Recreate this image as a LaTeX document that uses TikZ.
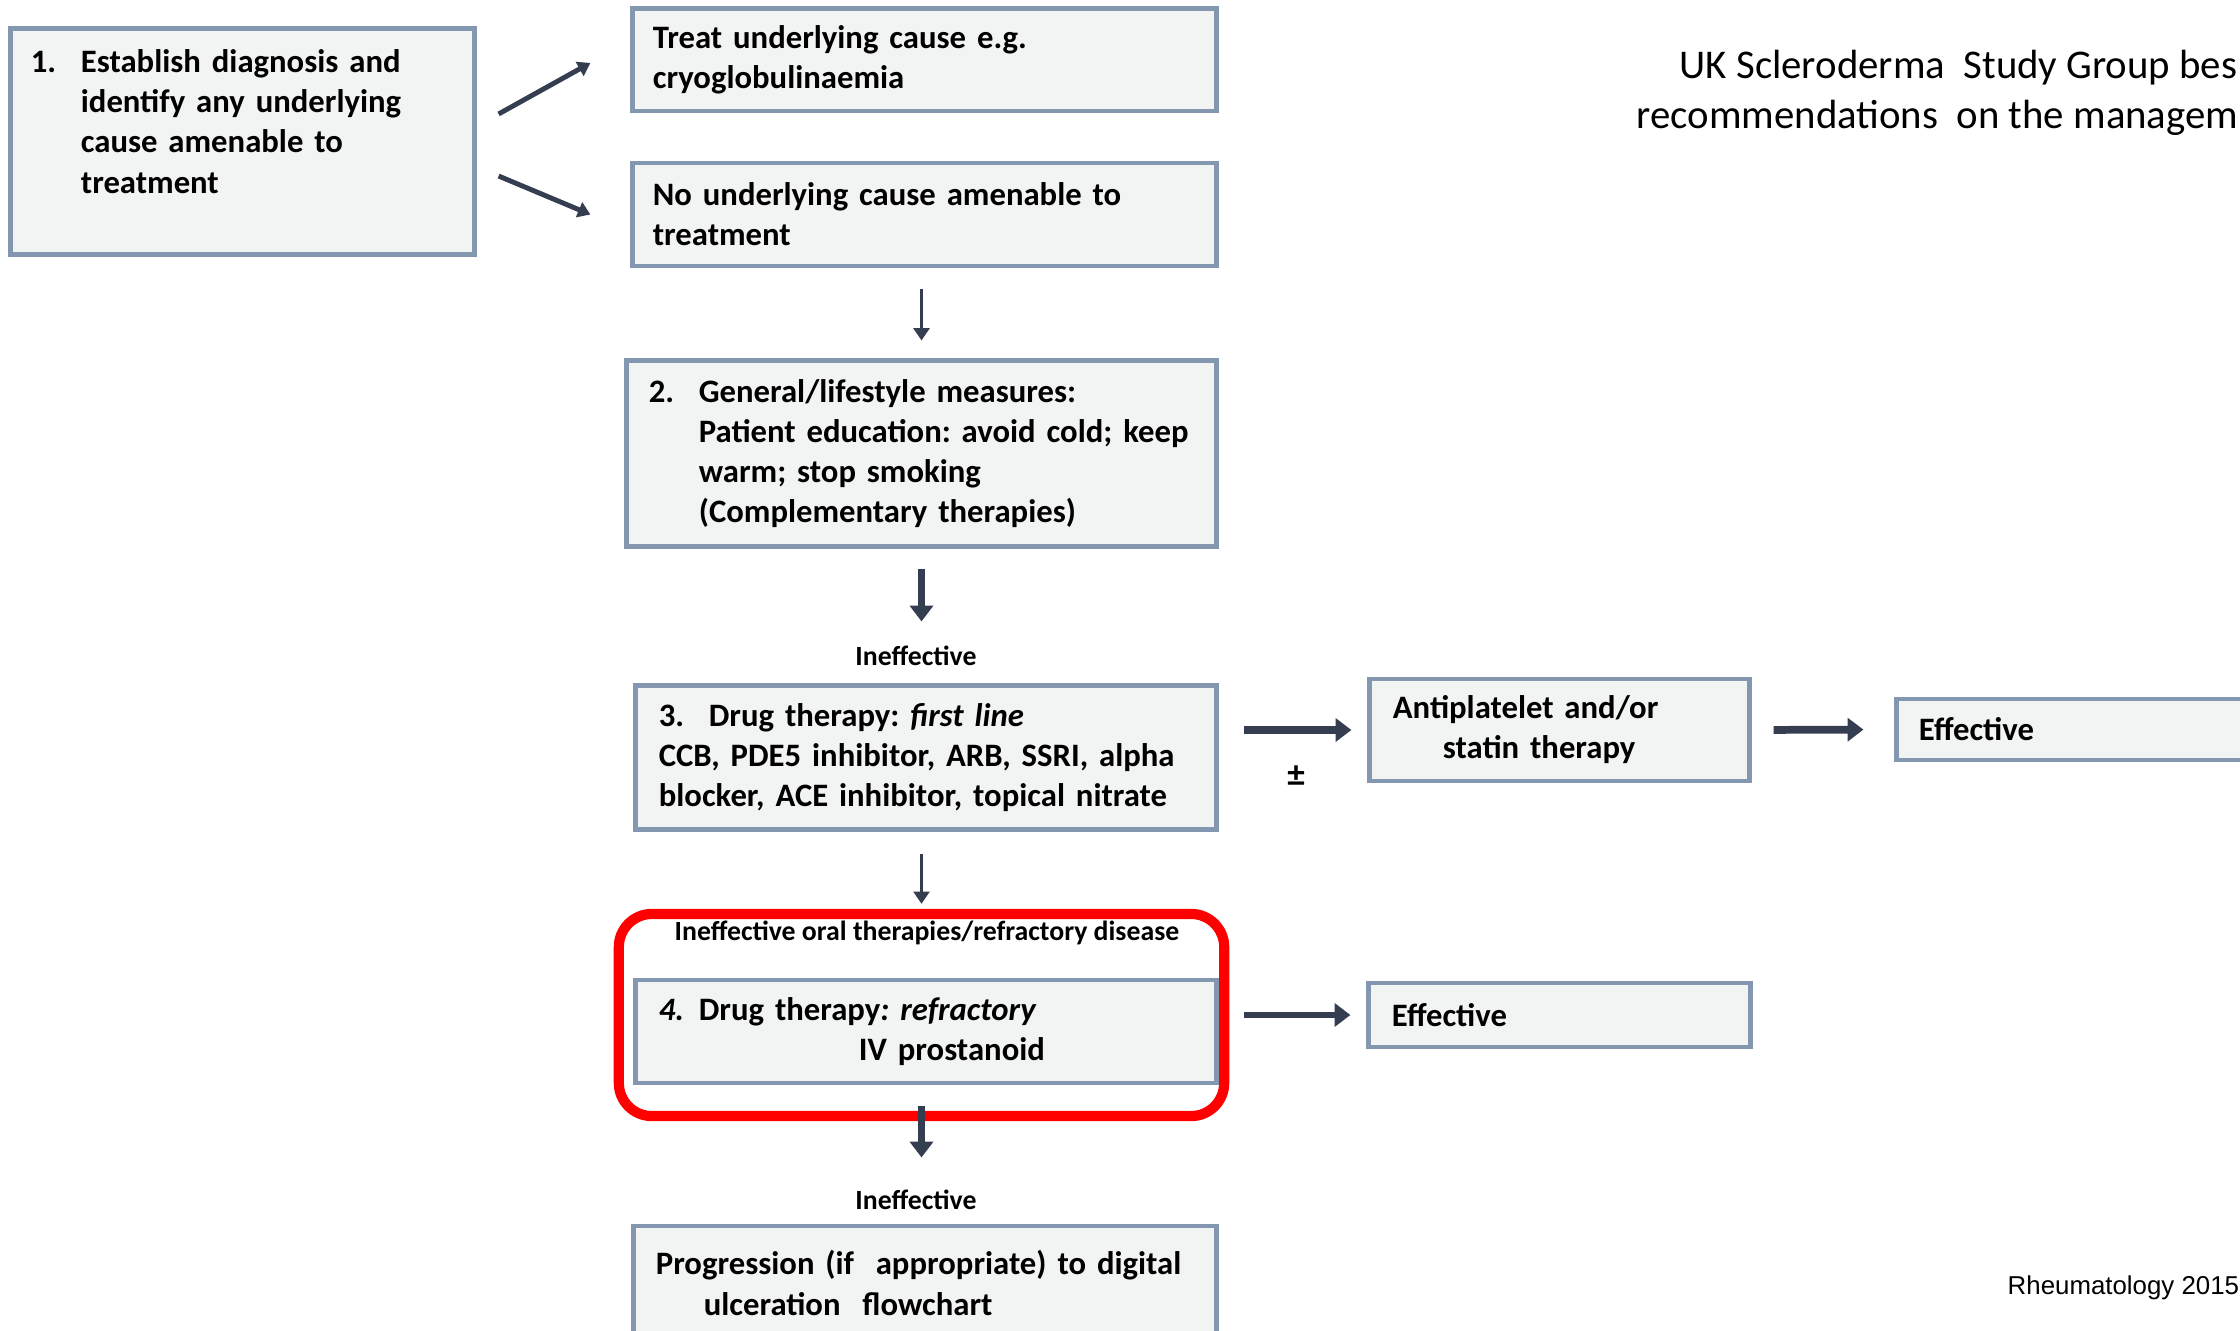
\documentclass[tikz,border=0pt]{standalone}
\usepackage{fontspec}
\setmainfont{Carlito}
\newfontfamily\arialfont{Liberation Sans}
\usetikzlibrary{arrows.meta}
\frenchspacing

\definecolor{boxfill}{RGB}{242,243,243}
\definecolor{boxline}{RGB}{132,151,176}
\definecolor{arrowcol}{RGB}{52,62,80}

\begin{document}
\begin{tikzpicture}[x=0.01cm,y=-0.01cm,
  box/.style={draw=boxline,fill=boxfill,line width=1.4pt,align=left,inner xsep=.2cm,
    font=\fontsize{9.3}{11.4}\selectfont\bfseries},
  thinarrow/.style={draw=arrowcol,line width=1.1pt,-{Triangle[width=4.5pt,length=3.5pt]}},
  thickarrow/.style={draw=arrowcol,line width=2.2pt,-{Triangle[width=6.5pt,length=4.5pt]}},
  lbl/.style={font=\fontsize{7.9}{9}\selectfont\bfseries,inner sep=0pt}]

  \useasboundingbox (0,0) rectangle (2240,1331);
  \clip (0,0) rectangle (2240,1331);

  % step 1 and the two outcomes
  \node[box,minimum width=4.63cm,minimum height=2.25cm,text width=4.23cm] at (242.5,141.5) (b1)
    {\makebox[.5cm][l]{1.}Establish diagnosis and\\\hspace*{.5cm}identify any underlying\\
     \hspace*{.5cm}cause amenable to\\\hspace*{.5cm}treatment\\~};
  \node[box,minimum width=5.83cm,minimum height=1.02cm,text width=5.43cm] at (924.5,60) (treat)
    {Treat underlying cause e.g.\\cryoglobulinaemia};
  \node[box,minimum width=5.83cm,minimum height=1.03cm,text width=5.43cm] at (924.5,214.5) (nocause)
    {No underlying cause amenable to\\treatment};

  % step 2
  \node[box,minimum width=5.89cm,minimum height=1.85cm,text width=5.45cm,inner xsep=.22cm] at (921.5,453.5) (b2)
    {\makebox[.5cm][l]{2.}General/lifestyle measures:\\\hspace*{.5cm}Patient education: avoid cold; keep\\
     \hspace*{.5cm}warm; stop smoking\\\hspace*{.5cm}(Complementary therapies)};
  \node[lbl] at (916,656) (ineff1) {Ineffective};

  % step 3, first line
  \node[box,minimum width=5.80cm,minimum height=1.43cm,text width=5.34cm,inner xsep=.23cm] at (926,757.5) (b3)
    {\makebox[.5cm][l]{3.}Drug therapy: \textit{first line}\\CCB, PDE5 inhibitor, ARB, SSRI, alpha\\
     blocker, ACE inhibitor, topical nitrate};
  \node[box,minimum width=3.79cm,minimum height=1.02cm,text width=3.33cm,inner xsep=.23cm] at (1559.5,730) (anti)
    {Antiplatelet and/or\\\hspace*{.5cm}statin therapy};
  \node[box,minimum width=3.79cm,minimum height=.61cm,text width=3.35cm,inner xsep=.22cm] at (2086.5,729.5) (eff1)
    {Effective};
  \node[font=\fontsize{10}{11}\selectfont\bfseries,inner sep=0pt] at (1296,776) (pm) {±};

  % step 4, refractory
  \node[draw=red,line width=2.9pt,rounded corners=.33cm,minimum width=6.05cm,minimum height=2.02cm] at (921.5,1015) (frame) {};
  \node[lbl] at (927,933) (oral) {Ineffective oral therapies/refractory disease};
  \node[box,minimum width=5.80cm,minimum height=1.03cm,text width=5.34cm,inner xsep=.23cm] at (926,1031.5) (b4)
    {\makebox[.4cm][l]{\textit{4.}}Drug therapy\textit{: refractory}\\\hspace*{2cm}IV prostanoid};
  \node[box,minimum width=3.79cm,minimum height=.64cm,text width=3.35cm,inner xsep=.23cm] at (1559.5,1015) (eff2)
    {Effective};
  \node[lbl] at (916,1200) (ineff2) {Ineffective};

  % step 5
  \node[box,minimum width=5.82cm,minimum height=1.14cm,text width=5.38cm,inner xsep=.22cm] at (925,1283) (b5)
    {Progression (if\ \ appropriate) to digital\\\hspace*{.48cm}ulceration\ \ flowchart};

  % title and source
  \node[anchor=base west,inner sep=0pt,font=\fontsize{11.6}{14}\selectfont] at (1679,79) (title1)
    {UK Scleroderma\ \ Study Group bes};
  \node[anchor=base west,inner sep=0pt,font=\fontsize{11.6}{14}\selectfont] at (1636,129) (title2)
    {recommendations\ \ on the managem};
  \node[anchor=base west,inner sep=0pt,font=\arialfont\fontsize{7.35}{8}\selectfont] at (2007,1294) (source)
    {Rheumatology 2015};

  % arrows
  \draw[thinarrow,line width=1.4pt] ([xshift=.22cm,yshift=.275cm]b1.east) -- ([xshift=-.4cm,yshift=-.03cm]treat.west);
  \draw[thinarrow,line width=1.4pt] ([xshift=.22cm,yshift=-.345cm]b1.east) -- ([xshift=-.4cm]nocause.west);
  \draw[thinarrow,shorten <=.21cm,shorten >=.18cm] (nocause.south -| b2.north) -- (b2.north);
  \draw[thickarrow,shorten <=.2cm,shorten >=.62cm] (b2.south) -- (b2.south |- b3.north);
  \draw[thinarrow,shorten <=.22cm,shorten >=.05cm] (b3.south -| b2.south) -- (b2.south |- frame.north);
  \draw[thickarrow,shorten <=.2cm,shorten >=.66cm] (b4.south -| b2.south) -- (b2.south |- b5.north);
  \draw[thickarrow,shorten <=.25cm,shorten >=.16cm] (anti.west -| b3.east) -- (anti.west);
  \draw[thickarrow,shorten <=.22cm,shorten >=.31cm] (anti.east) -- (eff1.west);
  \draw[thickarrow,line width=1.8pt,shorten <=.25cm,shorten >=.16cm] (eff2.west -| b4.east) -- (eff2.west);

\end{tikzpicture}
\end{document}
